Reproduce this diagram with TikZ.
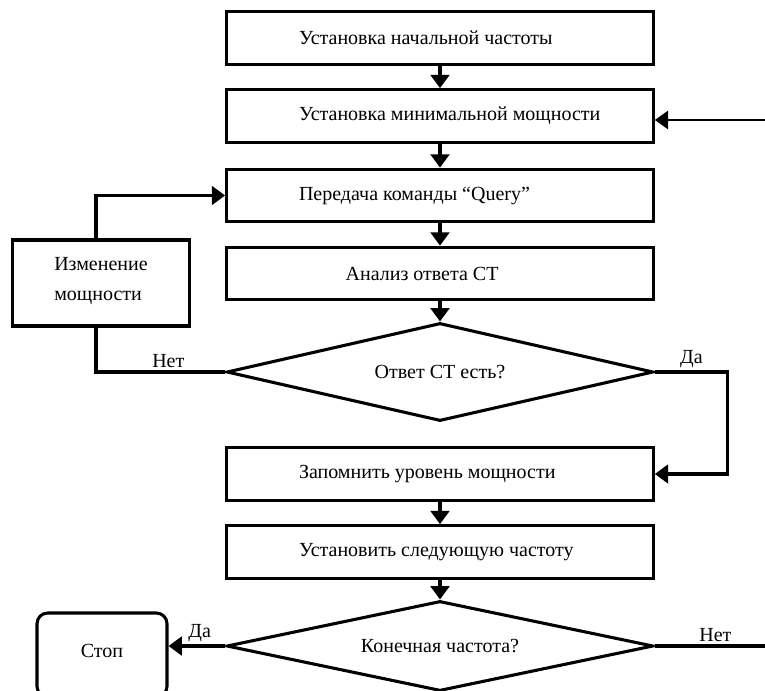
\documentclass[tikz,border=0pt]{standalone}
\usepackage{fontspec}
\setmainfont{Liberation Serif}
\usetikzlibrary{arrows.meta}
\usetikzlibrary{shapes.geometric}
\usetikzlibrary{calc}

\newcommand{\boxtext}[1]{\makebox[211.5pt][l]{#1}}

\begin{document}
\begin{tikzpicture}[x=0.75pt,y=-0.75pt,line width=2.3pt,
    font=\fontsize{15}{18}\selectfont,
    >={Triangle[length=10pt,width=14pt]},
    blok/.style={draw, rectangle, minimum width=320pt, minimum height=39.5pt, inner sep=0pt},
    romb/.style={draw, diamond, aspect=4.37, minimum width=320pt, inner sep=0pt},
    metka/.style={inner sep=2pt}
    ]
\useasboundingbox (0,0) rectangle (765,690);
\clip (0,0) rectangle (765,690);

\node[blok] (ust) at (440,38) {\boxtext{Установка начальной частоты}};
\node[blok] (min) at (440,116) {\boxtext{Установка минимальной мощности}};
\node[blok] (query) at (440,195.5) {\boxtext{Передача команды “Query”}};
\node[blok] (analiz) at (440,273.5) {\boxtext{\hspace*{35pt}Анализ ответа СТ}};
\node[romb, minimum height=73.5pt] (otvet) at (440,372) {Ответ СТ есть?};
\node[blok] (zap) at (440,474) {\boxtext{Запомнить уровень мощности}};
\node[blok] (sled) at (440,552) {\boxtext{Установить следующую частоту}};
\node[romb, minimum height=67.5pt] (kon) at (440,646) {Конечная частота?};

\node[draw, minimum width=133pt, minimum height=64.5pt, align=left,
      font=\fontsize{15}{22}\selectfont] (izm) at (101,283) {\raisebox{6pt}{Изменение}\\\raisebox{6pt}{мощности}};
\node[draw, rounded corners=8pt, minimum width=97.5pt, minimum height=63pt] (stop) at (102,655) {\raisebox{6pt}{Стоп}};

\coordinate (vhod) at (765,120);
\coordinate (vyhod) at (765,646);

% main chain
\draw[->] (ust) -- (min);
\draw[->] (min) -- (query);
\draw[->] (query) -- (analiz);
\draw[->] (analiz) -- (otvet);
\draw[->] (zap) -- (sled);
\draw[->] (sled) -- (kon);

% feedback from the right
\draw[->, line width=1pt] (vhod) -- (vhod -| min.east);

% first decision
\draw[->] (otvet.east) -- ++(73,0) node[metka, midway, above] {Да} |- (zap.east);
\draw (otvet.west) -| node[metka, pos=0.22, above] {Нет} ([xshift=-3.75pt]izm.south);
\draw[->] ([xshift=-3.75pt]izm.north) |- (query.west);

% second decision
\draw[->] (kon.west) -- node[metka, pos=0.45, above] {Да} (kon.west -| stop.east);
\draw (kon.east) -- node[metka, pos=0.55, above] {Нет} (vyhod);
\end{tikzpicture}
\end{document}
